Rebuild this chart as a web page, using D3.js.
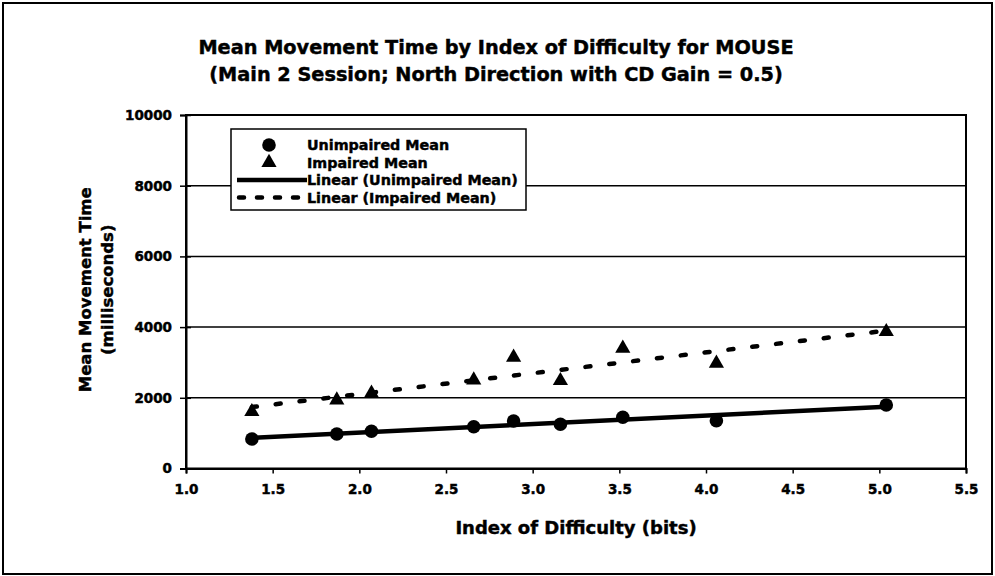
<!DOCTYPE html>
<html>
<head>
<meta charset="utf-8">
<script src="https://cdn.jsdelivr.net/npm/d3@7"></script>
<style>
  html, body { margin: 0; padding: 0; background: #fff; }
  svg { display: block; }
  text { font-family: "DejaVu Sans", "Liberation Sans", Arial, sans-serif; font-weight: bold; fill: #000; stroke: #000; stroke-width: 0.45px; }
</style>
</head>
<body>
<svg id="chart" width="995" height="576"></svg>
<script>
// Index of difficulty (bits) for each target condition
const indexOfDifficulty = [1.38, 1.87, 2.07, 2.66, 2.89, 3.16, 3.52, 4.06, 5.04];
// Mean movement times (ms)
const unimpairedMean = [834, 976, 1052, 1183, 1344, 1250, 1448, 1352, 1796];
const impairedMean   = [1606, 1938, 2127, 2503, 3145, 2484, 3400, 2976, 3870];

const xTicks = [1.0, 1.5, 2.0, 2.5, 3.0, 3.5, 4.0, 4.5, 5.0, 5.5];
const yTicks = [0, 2000, 4000, 6000, 8000, 10000];

const titleLines = [
  "Mean Movement Time by Index of Difficulty for MOUSE",
  "(Main 2 Session; North Direction with CD Gain = 0.5)"
];
const xTitle = "Index of Difficulty (bits)";
const yTitleLines = ["Mean Movement Time", "(milliseconds)"];
const legendLabels = ["Unimpaired Mean", "Impaired Mean", "Linear (Unimpaired Mean)", "Linear (Impaired Mean)"];

const svg = d3.select("#chart");
const W = 995, H = 576;
const plot = { left: 186, right: 966, top: 115, bottom: 468.5 };

const x = d3.scaleLinear().domain([1, 5.5]).range([plot.left, plot.right]);
const y = d3.scaleLinear().domain([0, 10000]).range([plot.bottom, plot.top]);

// outer chart frame
svg.append("rect")
  .attr("x", 3).attr("y", 3).attr("width", W - 6).attr("height", H - 5)
  .attr("fill", "none").attr("stroke", "#000").attr("stroke-width", 2);

// title
svg.append("g").selectAll("text").data(titleLines).join("text")
  .attr("x", 496).attr("y", (d, i) => 54 + i * 27)
  .attr("text-anchor", "middle")
  .style("font-size", "19.3px")
  .text(d => d);

// horizontal gridlines
svg.append("g").selectAll("line").data(yTicks.filter(v => v > 0 && v < 10000)).join("line")
  .attr("x1", plot.left).attr("x2", plot.right)
  .attr("y1", d => y(d)).attr("y2", d => y(d))
  .attr("stroke", "#000").attr("stroke-width", 1.5);

// plot area border
svg.append("rect")
  .attr("x", plot.left).attr("y", plot.top)
  .attr("width", plot.right - plot.left).attr("height", plot.bottom - plot.top)
  .attr("fill", "none").attr("stroke", "#000").attr("stroke-width", 2);

// y axis
const yAxis = svg.append("g")
  .attr("transform", `translate(${plot.left},0)`)
  .call(d3.axisLeft(y).tickValues(yTicks).tickSize(6).tickPadding(8).tickFormat(d3.format("d")));
yAxis.attr("font-family", null).attr("font-size", null);
yAxis.select(".domain").attr("stroke-width", 2);
yAxis.selectAll(".tick line").attr("x1", 5).attr("stroke-width", 1.5);
yAxis.selectAll(".tick text").style("font-size", "13.5px").attr("fill", "#000");

// x axis
const xAxis = svg.append("g")
  .attr("transform", `translate(0,${plot.bottom})`)
  .call(d3.axisBottom(x).tickValues(xTicks).tickSize(5).tickPadding(11).tickFormat(d3.format(".1f")));
xAxis.attr("font-family", null).attr("font-size", null);
xAxis.select(".domain").attr("stroke-width", 2);
xAxis.selectAll(".tick line").attr("stroke-width", 1.5);
xAxis.selectAll(".tick text").style("font-size", "13.5px").attr("fill", "#000");

// axis titles
svg.append("text")
  .attr("x", (plot.left + plot.right) / 2).attr("y", 534)
  .attr("text-anchor", "middle").style("font-size", "18px")
  .text(xTitle);

svg.append("g").selectAll("text").data(yTitleLines).join("text")
  .attr("transform", (d, i) => `translate(${91 + i * 22},${(plot.top + plot.bottom) / 2 - 2}) rotate(-90)`)
  .attr("text-anchor", "middle").style("font-size", "16.5px")
  .text(d => d);

// least-squares trend line for a series
function linearFit(xs, ys) {
  const mx = d3.mean(xs), my = d3.mean(ys);
  let sxy = 0, sxx = 0;
  xs.forEach((xv, i) => { sxy += (xv - mx) * (ys[i] - my); sxx += (xv - mx) ** 2; });
  const slope = sxy / sxx;
  const icpt = my - slope * mx;
  const [x0, x1] = d3.extent(xs);
  return [[x0, icpt + slope * x0], [x1, icpt + slope * x1]];
}

const line = d3.line().x(d => x(d[0])).y(d => y(d[1]));
const dashPattern = "5,19";

svg.append("path")
  .datum(linearFit(indexOfDifficulty, impairedMean))
  .attr("d", line).attr("fill", "none").attr("stroke", "#000")
  .attr("stroke-width", 4.5).attr("stroke-linecap", "round")
  .attr("stroke-dasharray", dashPattern);

svg.append("path")
  .datum(linearFit(indexOfDifficulty, unimpairedMean))
  .attr("d", line).attr("fill", "none").attr("stroke", "#000")
  .attr("stroke-width", 4.5);

const circleSym = d3.symbol().type(d3.symbolCircle).size(145);
const triSym = d3.symbol().type(d3.symbolTriangle).size(100);

svg.append("g").selectAll("path").data(indexOfDifficulty).join("path")
  .attr("transform", (d, i) => `translate(${x(d)},${y(unimpairedMean[i])})`)
  .attr("d", circleSym).attr("fill", "#000");

svg.append("g").selectAll("path").data(indexOfDifficulty).join("path")
  .attr("transform", (d, i) => `translate(${x(d)},${y(impairedMean[i])})`)
  .attr("d", triSym).attr("fill", "#000");

// legend
const lg = svg.append("g").attr("transform", "translate(231,129)");
lg.append("rect").attr("width", 295).attr("height", 81)
  .attr("fill", "#fff").attr("stroke", "#000").attr("stroke-width", 1.5);
const rowY = i => 16 + i * 17.5;
lg.selectAll("text").data(legendLabels).join("text")
  .attr("x", 76).attr("y", (d, i) => rowY(i) + 5)
  .style("font-size", "14.3px")
  .text(d => d);
lg.append("path").attr("transform", `translate(38,${rowY(0)})`).attr("d", circleSym).attr("fill", "#000");
lg.append("path").attr("transform", `translate(38,${rowY(1)})`).attr("d", triSym).attr("fill", "#000");
lg.append("line").attr("x1", 6).attr("x2", 76).attr("y1", rowY(2)).attr("y2", rowY(2))
  .attr("stroke", "#000").attr("stroke-width", 4.5);
lg.append("line").attr("x1", 8).attr("x2", 72).attr("y1", rowY(3)).attr("y2", rowY(3))
  .attr("stroke", "#000").attr("stroke-width", 4.5).attr("stroke-linecap", "round")
  .attr("stroke-dasharray", "5,13");
</script>
</body>
</html>
